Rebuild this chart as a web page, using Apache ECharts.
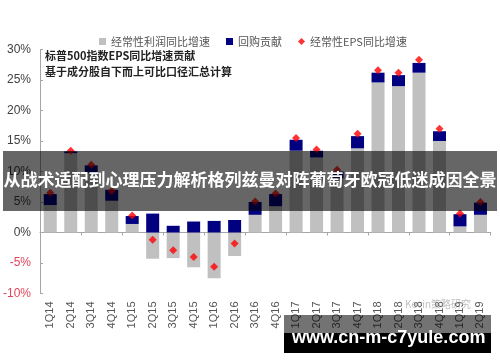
<!DOCTYPE html>
<html>
<head>
<meta charset="utf-8">
<script src="https://cdn.jsdelivr.net/npm/echarts@6/dist/echarts.min.js"></script>
<style>
html,body{margin:0;padding:0;background:#fff;}
#chart{width:500px;height:362px;}
</style>
</head>
<body>
<div id="chart"></div>
<script>
var categories = ['1Q14','2Q14','3Q14','4Q14','1Q15','2Q15','3Q15','4Q15','1Q16','2Q16','3Q16','4Q16','1Q17','2Q17','3Q17','4Q17','1Q18','2Q18','3Q18','4Q18','1Q19','2Q19'];
var profitGrowth = [4.5, 13.0, 9.8, 5.2, 1.4, -4.3, -4.2, -5.7, -7.5, -3.85, 2.9, 4.3, 13.4, 12.3, 8.9, 13.8, 24.6, 24.0, 26.2, 15.0, 1.0, 2.9];
var buyback = [1.8, 0.3, 1.2, 1.8, 1.3, 3.1, 1.1, 1.8, 1.9, 2.05, 2.1, 2.0, 1.8, 1.1, 1.1, 2.0, 1.6, 1.8, 1.6, 1.6, 2.0, 2.0];
var epsGrowth = [6.5, 13.4, 11.1, 6.8, 2.8, -1.2, -2.9, -4.0, -5.6, -1.8, 5.1, 6.4, 15.5, 13.6, 10.3, 16.2, 26.6, 26.2, 28.3, 17.0, 3.1, 5.0];
var yTicks = {min: -10, max: 30, interval: 5};
var seriesNames = ['经常性利润同比增速', '回购贡献', '经常性EPS同比增速'];
var noteLines = ['标普500指数EPS同比增速贡献', '基于成分股自下而上可比口径汇总计算'];
var bannerTitle = '从战术适配到心理压力解析格列兹曼对阵葡萄牙欧冠低迷成因全景';
var bannerUrl = 'www.cn-m-c7yule.com';
var watermark = 'Kevin策略研究';

var chart = echarts.init(document.getElementById('chart'), null, {renderer: 'canvas'});
var cjk = '"Noto Sans CJK SC", sans-serif';
var option = {
  backgroundColor: '#ffffff',
  animation: false,
  legend: {
    left: 94, top: 31,
    itemWidth: 7, itemHeight: 7, itemGap: 16,
    textStyle: {fontFamily: cjk, fontSize: 11, color: '#555'},
    data: [
      {name: seriesNames[0], icon: 'rect'},
      {name: seriesNames[1], icon: 'rect'},
      {name: seriesNames[2], icon: 'diamond'}
    ]
  },
  grid: {left: 39, right: 9.3, top: 49.5, bottom: 68.5},
  xAxis: [
    {
      type: 'category', data: categories, position: 'bottom',
      axisLine: {show: false, onZero: false}, axisTick: {show: false},
      axisLabel: {rotate: 90, margin: 8, fontSize: 11, color: '#555', fontFamily: '"Liberation Sans", Arial, sans-serif'}
    },
    {
      type: 'category', data: categories, position: 'bottom',
      axisLine: {show: true, onZero: true, lineStyle: {color: '#a6a6a6', width: 1}},
      axisTick: {show: true, length: 3, lineStyle: {color: '#a6a6a6'}},
      axisLabel: {show: false}
    }
  ],
  yAxis: {
    type: 'value', min: yTicks.min, max: yTicks.max, interval: yTicks.interval,
    axisLine: {show: true, lineStyle: {color: '#a6a6a6'}},
    axisTick: {show: true, inside: true, length: 3, lineStyle: {color: '#a6a6a6'}},
    splitLine: {show: false},
    axisLabel: {
      formatter: '{value}%', fontSize: 12, margin: 9,
      fontFamily: '"Liberation Sans", Arial, sans-serif',
      color: function (v) { return Number(v) < 0 ? '#e0455c' : '#404040'; }
    }
  },
  series: [
    {name: seriesNames[0], type: 'bar', stack: 's', data: profitGrowth, barWidth: 13, itemStyle: {color: '#c0c0c0'}, xAxisIndex: 0},
    {name: seriesNames[1], type: 'bar', stack: 's', data: buyback, barWidth: 13, itemStyle: {color: '#000080'}, xAxisIndex: 0},
    {name: seriesNames[2], type: 'scatter', data: epsGrowth, symbol: 'diamond', symbolSize: 8, itemStyle: {color: '#ff0000'}, xAxisIndex: 0, z: 5}
  ],
  graphic: [
    {type: 'text', left: 45, top: 50, z: 50, style: {text: noteLines[0], font: 'bold 11px ' + cjk, fill: '#222'}},
    {type: 'text', left: 45, top: 66, z: 50, style: {text: noteLines[1], font: 'bold 11px ' + cjk, fill: '#222'}},
    {type: 'text', left: 405, top: 299, z: 50, style: {text: watermark, font: '10px ' + cjk, fill: 'rgba(150,150,150,0.6)'}},
    {type: 'rect', left: 3, top: 151, z: 100, shape: {width: 494, height: 60}, style: {fill: 'rgba(0,0,0,0.6)'}},
    {type: 'text', left: 'center', top: 171, z: 101, style: {text: bannerTitle, font: 'bold 17px ' + cjk, fill: '#ffffff'}},
    {type: 'rect', left: 284, top: 315, z: 100, shape: {width: 207, height: 18}, style: {fill: 'rgba(0,0,0,0.55)'}},
    {type: 'rect', left: 284, top: 333, z: 100, shape: {width: 207, height: 20}, style: {fill: '#000000'}},
    {type: 'text', left: 292, top: 329, z: 101, style: {text: bannerUrl, font: 'bold 18px "Liberation Sans", Arial, sans-serif', fill: '#ffffff'}}
  ]
};
chart.setOption(option);
</script>
</body>
</html>
